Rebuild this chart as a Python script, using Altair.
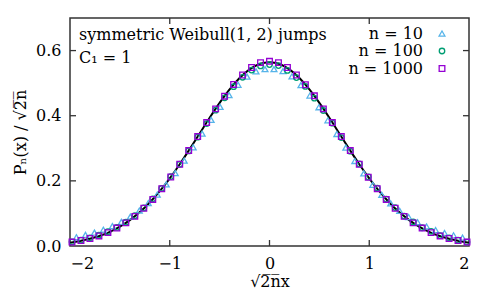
import altair as alt
import pandas as pd

# ---- data ----
x_curve = [-2.0, -1.9, -1.8, -1.7, -1.6, -1.5, -1.4, -1.3, -1.2, -1.1, -1.0, -0.9, -0.8, -0.7, -0.6, -0.5, -0.4, -0.3, -0.2, -0.1, 0.0,
           0.1, 0.2, 0.3, 0.4, 0.5, 0.6, 0.7, 0.8, 0.9, 1.0, 1.1, 1.2, 1.3, 1.4, 1.5, 1.6, 1.7, 1.8, 1.9, 2.0]
y_curve = [0.0103, 0.0153, 0.0221, 0.0314, 0.0436, 0.0595, 0.0795, 0.1041, 0.1337, 0.1682, 0.2076, 0.2510, 0.2975, 0.3456, 0.3936, 0.4394, 0.4808, 0.5156, 0.5421, 0.5586, 0.5642,
           0.5586, 0.5421, 0.5156, 0.4808, 0.4394, 0.3936, 0.3456, 0.2975, 0.2510, 0.2076, 0.1682, 0.1337, 0.1041, 0.0795, 0.0595, 0.0436, 0.0314, 0.0221, 0.0153, 0.0103]

x_n10 = [-1.935, -1.845, -1.755, -1.665, -1.575, -1.485, -1.395, -1.305, -1.215, -1.125, -1.035, -0.945, -0.855, -0.765, -0.675, -0.585, -0.495, -0.405, -0.315, -0.225, -0.135, -0.045,
         0.045, 0.135, 0.225, 0.315, 0.405, 0.495, 0.585, 0.675, 0.765, 0.855, 0.945, 1.035, 1.125, 1.215, 1.305, 1.395, 1.485, 1.575, 1.665, 1.755, 1.845, 1.935]
y_n10 = [0.027, 0.034, 0.041, 0.050, 0.061, 0.074, 0.090, 0.109, 0.132, 0.158, 0.189, 0.224, 0.262, 0.303, 0.345, 0.387, 0.427, 0.463, 0.495, 0.520, 0.536, 0.543,
         0.543, 0.537, 0.521, 0.494, 0.462, 0.426, 0.386, 0.344, 0.302, 0.261, 0.223, 0.188, 0.157, 0.131, 0.108, 0.089, 0.073, 0.060, 0.049, 0.040, 0.033, 0.026]

x_n100 = [-1.98, -1.89, -1.80, -1.71, -1.62, -1.53, -1.44, -1.35, -1.26, -1.17, -1.08, -0.99, -0.90, -0.81, -0.72, -0.63, -0.54, -0.45, -0.36, -0.27, -0.18, -0.09, 0.00,
          0.09, 0.18, 0.27, 0.36, 0.45, 0.54, 0.63, 0.72, 0.81, 0.90, 0.99, 1.08, 1.17, 1.26, 1.35, 1.44, 1.53, 1.62, 1.71, 1.80, 1.89, 1.98]
y_n100 = [0.013, 0.018, 0.025, 0.033, 0.044, 0.057, 0.073, 0.093, 0.117, 0.145, 0.177, 0.213, 0.251, 0.292, 0.334, 0.376, 0.417, 0.455, 0.489, 0.518, 0.540, 0.553, 0.557,
          0.554, 0.539, 0.517, 0.490, 0.454, 0.416, 0.377, 0.333, 0.291, 0.252, 0.212, 0.178, 0.144, 0.118, 0.092, 0.074, 0.056, 0.045, 0.032, 0.025, 0.018, 0.012]

x_n1000 = x_n100
y_n1000 = [0.012, 0.017, 0.023, 0.031, 0.041, 0.055, 0.071, 0.091, 0.116, 0.143, 0.176, 0.212, 0.251, 0.293, 0.336, 0.379, 0.421, 0.460, 0.496, 0.525, 0.548, 0.563, 0.567,
           0.563, 0.548, 0.525, 0.495, 0.461, 0.421, 0.379, 0.336, 0.293, 0.251, 0.211, 0.176, 0.143, 0.116, 0.091, 0.071, 0.055, 0.041, 0.031, 0.023, 0.017, 0.012]

x_ticks = [-1, 0, 1]
y_ticks = [0.2, 0.4, 0.6]
legend_labels = ["n = 10", "n = 100", "n = 1000"]
legend_shapes = ["triangle-up", "circle", "square"]
legend_colors = ["#56B4E9", "#009E73", "#9400D3"]
marker_sizes = [34, 30, 32]
annotations = ["symmetric Weibull(1, 2) jumps", "C\u2081 = 1"]

FONT = "DejaVu Serif"
FS = 16
W, H = 399, 228
xs = alt.Scale(domain=[-2, 2], nice=False, zero=False)
ys = alt.Scale(domain=[0, 0.7], nice=False, zero=False)

curve_df = pd.DataFrame({"x": x_curve, "y": y_curve})
curve = alt.Chart(curve_df).mark_line(color="black", strokeWidth=2, interpolate="monotone").encode(
    x=alt.X("x:Q", scale=xs, title="\u221a2\u0305n\u0305x",
            axis=alt.Axis(values=[-2, -1, 0, 1, 2], ticks=False, domain=False, grid=False,
                          labelPadding=9, titlePadding=2, format="d")),
    y=alt.Y("y:Q", scale=ys, title="P\u2099(x) / \u221a2\u0305n\u0305",
            axis=alt.Axis(values=[0, 0.2, 0.4, 0.6], ticks=False, domain=False, grid=False,
                          labelPadding=9, titlePadding=7, format=".1f")),
)

def pts(xv, yv, shape, color, size):
    df = pd.DataFrame({"x": xv, "y": yv})
    return alt.Chart(df).mark_point(shape=shape, filled=False, color=color, size=size, strokeWidth=1.3, opacity=1).encode(
        x=alt.X("x:Q", scale=xs), y=alt.Y("y:Q", scale=ys))

p10 = pts(x_n10, y_n10, legend_shapes[0], legend_colors[0], marker_sizes[0])
p100 = pts(x_n100, y_n100, legend_shapes[1], legend_colors[1], marker_sizes[1])
p1000 = pts(x_n1000, y_n1000, legend_shapes[2], legend_colors[2], marker_sizes[2])

xt = pd.DataFrame({"v": x_ticks})
yt = pd.DataFrame({"v": y_ticks})
tick_color = "#333333"
tb = alt.Chart(xt).mark_rule(color=tick_color, strokeWidth=1.3).encode(
    x=alt.X("v:Q", scale=xs), y=alt.value(H), y2=alt.value(H - 6))
tt = alt.Chart(xt).mark_rule(color=tick_color, strokeWidth=1.3).encode(
    x=alt.X("v:Q", scale=xs), y=alt.value(0), y2=alt.value(6))
tl = alt.Chart(yt).mark_rule(color=tick_color, strokeWidth=1.3).encode(
    y=alt.Y("v:Q", scale=ys), x=alt.value(0), x2=alt.value(6))
tr = alt.Chart(yt).mark_rule(color=tick_color, strokeWidth=1.3).encode(
    y=alt.Y("v:Q", scale=ys), x=alt.value(W), x2=alt.value(W - 6))

layers = [curve, p10, p100, p1000, tb, tt, tl, tr]

ann_y = [17, 40]
for txt, yy in zip(annotations, ann_y):
    layers.append(alt.Chart(pd.DataFrame({"t": [txt]})).mark_text(
        font=FONT, fontSize=FS, align="left", baseline="middle", color="black").encode(
        text="t:N", x=alt.value(9), y=alt.value(yy)))

leg_y = [15.5, 33, 50.5]
for lab, shp, col, sz, yy in zip(legend_labels, legend_shapes, legend_colors, marker_sizes, leg_y):
    df = pd.DataFrame({"t": [lab]})
    layers.append(alt.Chart(df).mark_text(
        font=FONT, fontSize=FS, align="right", baseline="middle", color="black").encode(
        text="t:N", x=alt.value(353), y=alt.value(yy)))
    layers.append(alt.Chart(df).mark_point(
        shape=shp, filled=False, color=col, size=sz, strokeWidth=1.3, opacity=1).encode(
        x=alt.value(372), y=alt.value(yy)))

chart = alt.layer(*layers).properties(
    width=W, height=H,
    autosize=alt.AutoSizeParams(type="none"),
    padding={"left": 62, "top": 10, "right": 21, "bottom": 48},
).configure_view(stroke="#333333", strokeWidth=1.5).configure_axis(
    labelFont=FONT, titleFont=FONT, labelFontSize=FS, titleFontSize=FS,
    labelColor="black", titleColor="black", titleFontWeight="normal",
)

chart.save("out.html", embed_options={"renderer": "svg", "actions": False})
